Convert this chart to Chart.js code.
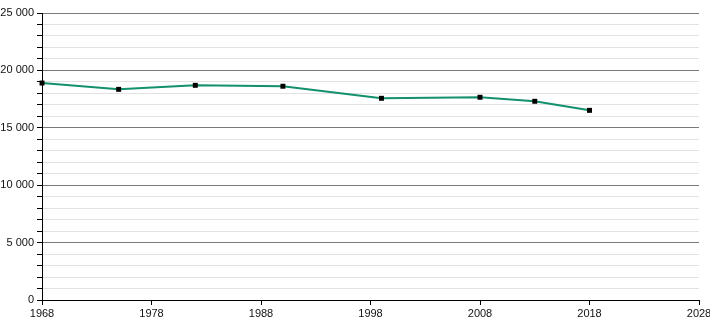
<!DOCTYPE html>
<html>
<head>
<meta charset="utf-8">
<script src="https://cdn.jsdelivr.net/npm/chart.js@4/dist/chart.umd.min.js"></script>
<style>
  html, body { margin: 0; padding: 0; background: #fff; }
  #wrap { width: 710px; height: 320px; }
</style>
</head>
<body>
<div id="wrap"><canvas id="c"></canvas></div>
<script>
// census years and population
const years = [1968, 1975, 1982, 1990, 1999, 2008, 2013, 2018];
const population = [18900, 18350, 18700, 18620, 17570, 17660, 17310, 16520];
const xTicks = [1968, 1978, 1988, 1998, 2008, 2018, 2028];

const fmt = v => String(v).replace(/\B(?=(\d{3})+(?!\d))/g, " ");

Chart.defaults.font.family = "'Liberation Sans', Arial, sans-serif";
Chart.defaults.font.size = 11;
Chart.defaults.color = "#111";

new Chart(document.getElementById("c"), {
  type: "line",
  data: {
    datasets: [{
      data: years.map((y, i) => ({ x: y, y: population[i] })),
      borderColor: "#13906c",
      borderWidth: 2,
      pointStyle: "rect",
      pointRadius: 3.5,
      pointBackgroundColor: "#000",
      pointBorderWidth: 0,
      tension: 0,
      fill: false,
      clip: false
    }]
  },
  options: {
    responsive: true, maintainAspectRatio: false,
    animation: false,
    layout: { padding: { top: 13, right: 0, left: 0, bottom: 0 } },
    plugins: { legend: { display: false }, tooltip: { enabled: false } },
    scales: {
      x: {
        type: "linear", min: 1968, max: 2028,
        afterBuildTicks: s => { s.ticks = xTicks.map(v => ({ value: v })); },
        afterFit: s => { s.height = 20; s.paddingRight = 11; },
        ticks: { callback: v => String(v), padding: 2, maxRotation: 0, autoSkip: false },
        grid: { drawOnChartArea: false, tickLength: 5, color: "#000" },
        border: { color: "#000", width: 1 }
      },
      y: {
        min: 0, max: 25000,
        afterFit: s => { s.width = 42; },
        ticks: {
          stepSize: 1000, autoSkip: false, padding: 3,
          callback: v => (v % 5000 === 0 ? fmt(v) : "")
        },
        grid: {
          tickLength: 5,
          color: c => (c.tick && c.tick.value % 5000 === 0 ? "#7a7a7a" : "#e2e2e2"),
          tickColor: "#000"
        },
        border: { color: "#000", width: 1 }
      }
    }
  }
});
</script>
</body>
</html>
